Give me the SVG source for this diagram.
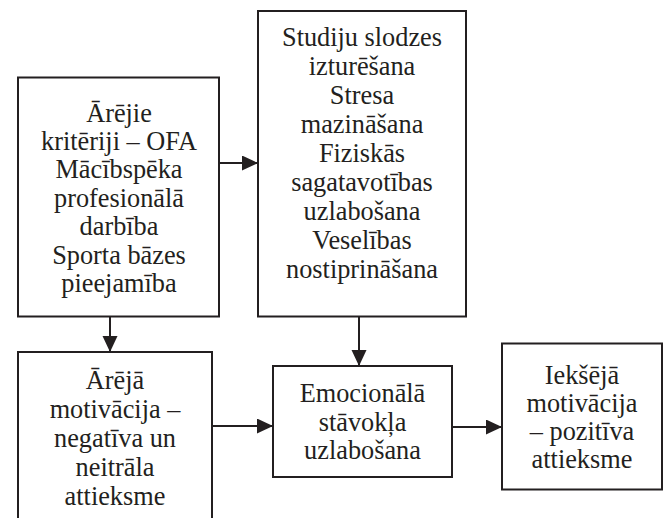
<svg xmlns="http://www.w3.org/2000/svg" width="669" height="518" viewBox="0 0 669 518">
<style>
.box{fill:#fff;stroke:#231f20;stroke-width:2}
.t{font-family:"Liberation Serif","Times New Roman",serif;font-size:26.3px;fill:#231f20;text-anchor:middle}
.c{fill:none;stroke:#231f20;stroke-width:2}
</style>
<defs>
<marker id="ah" markerUnits="userSpaceOnUse" markerWidth="16" markerHeight="16" refX="16" refY="7.5" orient="auto">
<path d="M0,0 L16,7.5 L0,15 z" fill="#231f20"/>
</marker>
</defs>
<rect width="669" height="518" fill="#fff"/>
<g id="n1">
<rect class="box" x="18" y="77.5" width="201" height="239"/>
<text class="t"><tspan x="119" y="121.5">Ārējie</tspan><tspan x="119" y="149.9">kritēriji – OFA</tspan><tspan x="119" y="178.3">Mācībspēka</tspan><tspan x="119" y="206.7">profesionālā</tspan><tspan x="119" y="235.1">darbība</tspan><tspan x="119" y="263.5">Sporta bāzes</tspan><tspan x="119" y="291.9">pieejamība</tspan></text>
</g>
<g id="n2">
<rect class="box" x="258" y="11" width="208" height="305.5"/>
<text class="t"><tspan x="362" y="46">Studiju slodzes</tspan><tspan x="362" y="75">izturēšana</tspan><tspan x="362" y="104">Stresa</tspan><tspan x="362" y="133">mazināšana</tspan><tspan x="362" y="162">Fiziskās</tspan><tspan x="362" y="191">sagatavotības</tspan><tspan x="362" y="220">uzlabošana</tspan><tspan x="362" y="249">Veselības</tspan><tspan x="362" y="278">nostiprināšana</tspan></text>
</g>
<g id="n3">
<rect class="box" x="18" y="352" width="194" height="200"/>
<text class="t"><tspan x="115" y="389">Ārējā</tspan><tspan x="115" y="418">motivācija –</tspan><tspan x="115" y="447">negatīva un</tspan><tspan x="115" y="476">neitrāla</tspan><tspan x="115" y="505">attieksme</tspan></text>
</g>
<g id="n4">
<rect class="box" x="273" y="366" width="179" height="111"/>
<text class="t"><tspan x="362.5" y="402">Emocionālā</tspan><tspan x="362.5" y="430.5">stāvokļa</tspan><tspan x="362.5" y="459">uzlabošana</tspan></text>
</g>
<g id="n5">
<rect class="box" x="502" y="343.5" width="160" height="146"/>
<text class="t"><tspan x="582" y="383.5">Iekšējā</tspan><tspan x="582" y="411.8">motivācija</tspan><tspan x="582" y="440.1">– pozitīva</tspan><tspan x="582" y="468.4">attieksme</tspan></text>
</g>
<g id="connectors">
<line class="c" x1="219" y1="163" x2="258" y2="163" marker-end="url(#ah)"/>
<line class="c" x1="110" y1="316.5" x2="110" y2="352" marker-end="url(#ah)"/>
<line class="c" x1="359" y1="316.5" x2="359" y2="366" marker-end="url(#ah)"/>
<line class="c" x1="212" y1="426" x2="273" y2="426" marker-end="url(#ah)"/>
<line class="c" x1="452" y1="427" x2="502" y2="427" marker-end="url(#ah)"/>
</g>
</svg>
